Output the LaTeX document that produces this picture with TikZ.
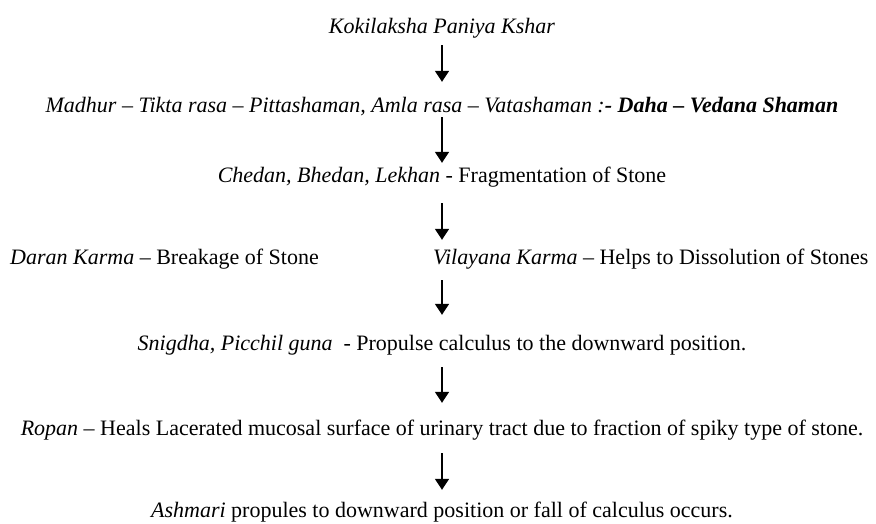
\documentclass[tikz,border=0pt]{standalone}
\usepackage{fontspec}
\setmainfont{Liberation Serif}
\usetikzlibrary{arrows.meta}
\begin{document}
\begin{tikzpicture}[x=1pt,y=-1pt,
		txt/.style={inner sep=0pt,text height=15pt,text depth=5pt,font=\fontsize{22}{26}\selectfont},
		flow/.style={-{Triangle[width=14pt,length=11pt]},line width=1.6pt}]
				\useasboundingbox (0,0) rectangle (876,523);
				\node[txt,anchor=base] (kok) at (442,33) {\textit{Kokilaksha Paniya Kshar}};
				\node[txt,anchor=base] (mad) at (442,112) {\textit{Madhur – Tikta rasa – Pittashaman, Amla rasa – Vatashaman :}\textbf{\textit{- Daha – Vedana Shaman}}};
				\node[txt,anchor=base] (ched) at (442,182) {\textit{Chedan, Bhedan, Lekhan} - Fragmentation of Stone};
				\node[txt,anchor=base west] (dar) at (10,264) {\textit{Daran Karma} – Breakage of Stone};
				\node[txt,anchor=base west] (vil) at (433,264) {\textit{Vilayana Karma} – Helps to Dissolution of Stones};
				\node[txt,anchor=base] (snig) at (442,350) {\textit{Snigdha, Picchil guna}\ \ - Propulse calculus to the downward position.};
				\node[txt,anchor=base] (rop) at (442,435) {\textit{Ropan} – Heals Lacerated mucosal surface of urinary tract due to fraction of spiky type of stone.};
				\node[txt,anchor=base] (ash) at (442,517) {\textit{Ashmari} propules to downward position or fall of calculus occurs.};
				\draw[flow,shorten <=7pt,shorten >=15pt] (kok.south) -- (mad.north);
				\draw[flow,shorten >=4pt] (mad.south) -- (ched.north);
				\draw[flow,shorten <=16pt,shorten >=9pt] (ched.south) -- (ched.south |- vil.north);
				\draw[flow,shorten <=11pt,shorten >=20pt] (ched.south |- vil.south) -- (snig.north);
				\draw[flow,shorten <=12pt,shorten >=17pt] (snig.south) -- (rop.north);
				\draw[flow,shorten <=13pt,shorten >=12pt] (rop.south) -- (ash.north);
			\end{tikzpicture}
\end{document}
